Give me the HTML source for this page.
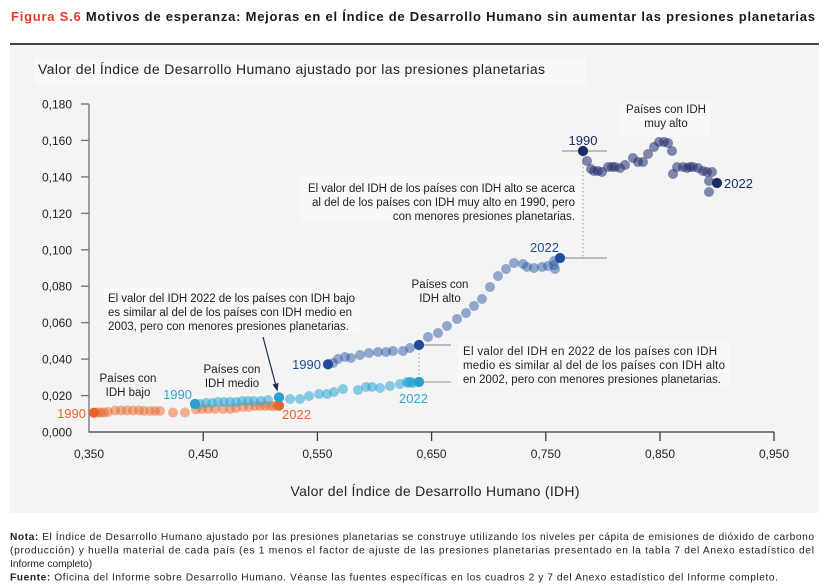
<!DOCTYPE html>
<html><head><meta charset="utf-8"><style>
html,body{margin:0;padding:0;background:#fff;}
svg{display:block;font-family:"Liberation Sans",Arial,sans-serif;}
</style></head><body>
<svg width="831" height="586" viewBox="0 0 831 586" xmlns="http://www.w3.org/2000/svg">
<!-- title -->
<text x="11" y="21" font-size="13" font-weight="bold" fill="#1a1a1a" textLength="804" lengthAdjust="spacing"><tspan fill="#e8382e">Figura S.6</tspan> Motivos de esperanza: Mejoras en el Índice de Desarrollo Humano sin aumentar las presiones planetarias</text>
<rect x="10" y="43" width="809" height="2" fill="#444"/>
<!-- panel -->
<rect x="10" y="45" width="809" height="468" fill="#f4f4f4"/>
<rect x="34" y="58" width="552" height="27" fill="#f8f8f8"/>
<text x="38" y="74" font-size="14" fill="#222" textLength="507" lengthAdjust="spacing">Valor del Índice de Desarrollo Humano ajustado por las presiones planetarias</text>

<!-- y axis -->
<g stroke="#6f6f6f" stroke-width="1.3">
<line x1="89" y1="104" x2="89" y2="432"/>
<line x1="81" y1="104" x2="89" y2="104"/>
<line x1="81" y1="140.4" x2="89" y2="140.4"/>
<line x1="81" y1="176.9" x2="89" y2="176.9"/>
<line x1="81" y1="213.3" x2="89" y2="213.3"/>
<line x1="81" y1="249.8" x2="89" y2="249.8"/>
<line x1="81" y1="286.2" x2="89" y2="286.2"/>
<line x1="81" y1="322.7" x2="89" y2="322.7"/>
<line x1="81" y1="359.1" x2="89" y2="359.1"/>
<line x1="81" y1="395.6" x2="89" y2="395.6"/>
</g>
<g font-size="12" fill="#222" text-anchor="end">
<text x="72" y="108.5">0,180</text>
<text x="72" y="144.9">0,160</text>
<text x="72" y="181.4">0,140</text>
<text x="72" y="217.8">0,120</text>
<text x="72" y="254.3">0,100</text>
<text x="72" y="290.7">0,080</text>
<text x="72" y="327.2">0,060</text>
<text x="72" y="363.6">0,040</text>
<text x="72" y="400.1">0,020</text>
<text x="72" y="436.5">0,000</text>
</g>
<!-- x axis -->
<g stroke="#3a3a3a" stroke-width="1.3">
<line x1="88.5" y1="432" x2="774" y2="432"/>
<line x1="203.2" y1="432" x2="203.2" y2="441"/>
<line x1="317.4" y1="432" x2="317.4" y2="441"/>
<line x1="431.6" y1="432" x2="431.6" y2="441"/>
<line x1="545.8" y1="432" x2="545.8" y2="441"/>
<line x1="660" y1="432" x2="660" y2="441"/>
<line x1="774" y1="432" x2="774" y2="441"/>
</g>
<g font-size="12" fill="#222" text-anchor="middle">
<text x="89" y="458">0,350</text>
<text x="203.2" y="458">0,450</text>
<text x="317.4" y="458">0,550</text>
<text x="431.6" y="458">0,650</text>
<text x="545.8" y="458">0,750</text>
<text x="660" y="458">0,850</text>
<text x="774" y="458">0,950</text>
</g>
<text x="435" y="496" font-size="14" fill="#222" text-anchor="middle" textLength="289" lengthAdjust="spacing">Valor del Índice de Desarrollo Humano (IDH)</text>

<!-- annotation boxes -->
<rect x="104" y="288" width="256" height="44" fill="#f8f8f8"/>
<rect x="300" y="176" width="280" height="46" fill="#f8f8f8"/>
<rect x="458" y="341" width="272" height="46" fill="#f8f8f8"/>
<rect x="620" y="102" width="91" height="35" fill="#f8f8f8"/>

<!-- reference lines -->
<g stroke="#9a9a9a" stroke-width="1.2" fill="none">
<line x1="562" y1="151" x2="607" y2="151"/>
<line x1="560" y1="258" x2="607" y2="258"/>
<line x1="419" y1="345" x2="451" y2="345"/>
</g>
<line x1="412" y1="382" x2="451" y2="382" stroke="#b8b8b8" stroke-width="1.5"/>
<g stroke="#9a9a9a" stroke-width="1" stroke-dasharray="1.5,2.5">
<line x1="583" y1="151" x2="583" y2="258"/>
<line x1="419" y1="345" x2="419" y2="382"/>
</g>

<!-- low HDI (orange) -->
<g fill="#ea6a2c" fill-opacity="0.5">
<circle cx="98" cy="412.5" r="5"/><circle cx="101" cy="412.5" r="5"/><circle cx="104" cy="412.5" r="5"/><circle cx="108" cy="412" r="5"/>
<circle cx="115" cy="410.5" r="5"/><circle cx="121" cy="410.5" r="5"/><circle cx="127" cy="410.5" r="5"/><circle cx="133" cy="410.5" r="5"/>
<circle cx="139" cy="410.5" r="5"/><circle cx="144" cy="411" r="5"/><circle cx="150" cy="411" r="5"/><circle cx="155" cy="411" r="5"/>
<circle cx="160" cy="411" r="5"/><circle cx="173" cy="412.5" r="5"/><circle cx="185" cy="412.5" r="5"/><circle cx="196" cy="409.5" r="5"/>
<circle cx="202" cy="409" r="5"/><circle cx="208" cy="409" r="5"/><circle cx="215" cy="409" r="5"/><circle cx="223" cy="409" r="5"/>
<circle cx="230" cy="409" r="5"/><circle cx="236" cy="408" r="5"/><circle cx="243" cy="407" r="5"/><circle cx="249" cy="407" r="5"/>
<circle cx="255" cy="406" r="5"/><circle cx="260" cy="406" r="5"/><circle cx="265" cy="406" r="5"/><circle cx="270" cy="406" r="5"/>
<circle cx="274" cy="406" r="5"/><circle cx="277" cy="405.5" r="5"/>
</g>
<!-- medium HDI (light blue) -->
<g fill="#2ba6d4" fill-opacity="0.55">
<circle cx="200" cy="404" r="5"/><circle cx="206" cy="403" r="5"/><circle cx="212" cy="403" r="5"/><circle cx="218" cy="402" r="5"/>
<circle cx="224" cy="402" r="5"/><circle cx="230" cy="402" r="5"/><circle cx="236" cy="402" r="5"/><circle cx="242" cy="401" r="5"/>
<circle cx="248" cy="401" r="5"/><circle cx="254" cy="401" r="5"/><circle cx="261" cy="401" r="5"/><circle cx="268" cy="400" r="5"/>
<circle cx="290" cy="399" r="5"/><circle cx="300" cy="399" r="5"/><circle cx="309" cy="396" r="5"/><circle cx="319" cy="394" r="5"/>
<circle cx="327" cy="394" r="5"/><circle cx="334" cy="392" r="5"/><circle cx="343" cy="389" r="5"/><circle cx="358" cy="390" r="5"/>
<circle cx="366" cy="387" r="5"/><circle cx="372" cy="387" r="5"/><circle cx="380" cy="388" r="5"/><circle cx="390" cy="386" r="5"/>
<circle cx="400" cy="384" r="5"/><circle cx="407" cy="382" r="5"/><circle cx="410" cy="382" r="5"/><circle cx="413" cy="383" r="5"/>
<circle cx="408" cy="383" r="5"/><circle cx="411" cy="382" r="5"/>
</g>
<!-- high HDI -->
<g fill="#2b57a6" fill-opacity="0.5">
<circle cx="333" cy="363" r="5"/><circle cx="338" cy="359" r="5"/><circle cx="345" cy="357" r="5"/><circle cx="351" cy="358" r="5"/>
<circle cx="360" cy="355" r="5"/><circle cx="369" cy="353" r="5"/><circle cx="378" cy="352" r="5"/><circle cx="386" cy="352" r="5"/>
<circle cx="393" cy="351" r="5"/><circle cx="403" cy="351" r="5"/><circle cx="410" cy="348" r="5"/>
<circle cx="428" cy="337" r="5"/><circle cx="438" cy="333" r="5"/><circle cx="447" cy="326" r="5"/><circle cx="457" cy="319" r="5"/>
<circle cx="466" cy="313" r="5"/><circle cx="474" cy="306" r="5"/><circle cx="482" cy="299" r="5"/><circle cx="490" cy="287" r="5"/>
<circle cx="498" cy="276" r="5"/><circle cx="506" cy="269" r="5"/><circle cx="514" cy="263" r="5"/><circle cx="523" cy="264" r="5"/>
<circle cx="527" cy="267" r="5"/><circle cx="534" cy="268" r="5"/><circle cx="542" cy="267" r="5"/><circle cx="548" cy="266" r="5"/>
<circle cx="554" cy="265" r="5"/><circle cx="555" cy="269" r="5"/><circle cx="554" cy="261" r="5"/>
</g>
<!-- very high HDI -->
<g fill="#1e2d6b" fill-opacity="0.55">
<circle cx="587" cy="161" r="5"/><circle cx="591" cy="169" r="5"/><circle cx="594" cy="171" r="5"/><circle cx="598" cy="171" r="5"/>
<circle cx="602" cy="172" r="5"/><circle cx="608" cy="167" r="5"/><circle cx="612" cy="167" r="5"/><circle cx="615" cy="167" r="5"/>
<circle cx="620" cy="168" r="5"/><circle cx="625" cy="165" r="5"/><circle cx="633" cy="158" r="5"/><circle cx="638" cy="162" r="5"/>
<circle cx="643" cy="162" r="5"/><circle cx="648" cy="154" r="5"/><circle cx="654" cy="147" r="5"/><circle cx="659" cy="142" r="5"/>
<circle cx="664" cy="142" r="5"/><circle cx="668" cy="143" r="5"/><circle cx="672" cy="151" r="5"/><circle cx="673" cy="174" r="5"/>
<circle cx="677" cy="167" r="5"/><circle cx="683" cy="167" r="5"/><circle cx="687" cy="168" r="5"/><circle cx="690" cy="167" r="5"/>
<circle cx="693" cy="167" r="5"/><circle cx="698" cy="168" r="5"/><circle cx="703" cy="171" r="5"/><circle cx="707" cy="172" r="5"/>
<circle cx="712" cy="172" r="5"/><circle cx="709" cy="181" r="5"/><circle cx="709" cy="192" r="5"/>
</g>
<!-- solid endpoints -->
<circle cx="94" cy="412.7" r="5.1" fill="#e8652a"/>
<circle cx="279" cy="405.7" r="5.1" fill="#e8652a"/>
<circle cx="195" cy="404" r="5.1" fill="#2a9ecf"/>
<circle cx="279" cy="397.3" r="5.1" fill="#2a9ecf"/>
<circle cx="419" cy="382" r="5.1" fill="#2a9ecf"/>
<circle cx="328" cy="364.3" r="5.1" fill="#1f4c9a"/>
<circle cx="419" cy="345" r="5.1" fill="#1f4c9a"/>
<circle cx="560" cy="258" r="5.1" fill="#1f4c9a"/>
<circle cx="583" cy="151" r="5.1" fill="#1c2a66"/>
<circle cx="717" cy="183" r="5.1" fill="#1c2a66"/>

<!-- year labels -->
<g font-size="13">
<text x="583" y="145" fill="#1c2a66" text-anchor="middle">1990</text>
<text x="724" y="188" fill="#1c2a66">2022</text>
<text x="530" y="252" fill="#1f4c9a">2022</text>
<text x="321" y="369" fill="#1f4c9a" text-anchor="end">1990</text>
<text x="399" y="403" fill="#36a5d3">2022</text>
<text x="192" y="399" fill="#36a5d3" text-anchor="end">1990</text>
<text x="86" y="418" fill="#e8652a" text-anchor="end">1990</text>
<text x="282" y="419" fill="#e8652a">2022</text>
</g>

<!-- group labels -->
<g font-size="11.5" fill="#222" text-anchor="middle">
<text x="666" y="113">Países con IDH</text>
<text x="666" y="127">muy alto</text>
<text x="440" y="288">Países con</text>
<text x="440" y="302">IDH alto</text>
<text x="232" y="373">Países con</text>
<text x="232" y="387">IDH medio</text>
<text x="128" y="382">Países con</text>
<text x="128" y="396">IDH bajo</text>
</g>

<!-- annotations -->
<g font-size="11.5" fill="#222">
<text x="575" y="192" text-anchor="end" textLength="267" lengthAdjust="spacing">El valor del IDH de los países con IDH alto se acerca</text>
<text x="575" y="206" text-anchor="end" textLength="263" lengthAdjust="spacing">al del de los países con IDH muy alto en 1990, pero</text>
<text x="575" y="220" text-anchor="end">con menores presiones planetarias.</text>
<text x="463" y="355" textLength="254" lengthAdjust="spacing">El valor del IDH en 2022 de los países con IDH</text>
<text x="463" y="369" textLength="262" lengthAdjust="spacing">medio es similar al del de los países con IDH alto</text>
<text x="463" y="383" textLength="258" lengthAdjust="spacing">en 2002, pero con menores presiones planetarias.</text>
<text x="108" y="302" textLength="247" lengthAdjust="spacing">El valor del IDH 2022 de los países con IDH bajo</text>
<text x="108" y="316" textLength="244" lengthAdjust="spacing">es similar al del de los países con IDH medio en</text>
<text x="108" y="330" textLength="241" lengthAdjust="spacing">2003, pero con menores presiones planetarias.</text>
</g>
<!-- arrow -->
<line x1="263" y1="337" x2="276" y2="386" stroke="#1c2a50" stroke-width="1.2"/>
<path d="M272.5,384.5 L277.5,391.5 L278.5,383 Z" fill="#1c2a50"/>

<!-- notes -->
<g font-size="10.2" fill="#222">
<text x="10" y="540" textLength="804" lengthAdjust="spacing"><tspan font-weight="bold">Nota:</tspan> El Índice de Desarrollo Humano ajustado por las presiones planetarias se construye utilizando los niveles per cápita de emisiones de dióxido de carbono</text>
<text x="10" y="553.5" textLength="804" lengthAdjust="spacing">(producción) y huella material de cada país (es 1 menos el factor de ajuste de las presiones planetarias presentado en la tabla 7 del Anexo estadístico del</text>
<text x="10" y="567">Informe completo)</text>
<text x="10" y="580.5" textLength="768" lengthAdjust="spacing"><tspan font-weight="bold">Fuente:</tspan> Oficina del Informe sobre Desarrollo Humano. Véanse las fuentes específicas en los cuadros 2 y 7 del Anexo estadístico del Informe completo.</text>
</g>
</svg>
</body></html>
